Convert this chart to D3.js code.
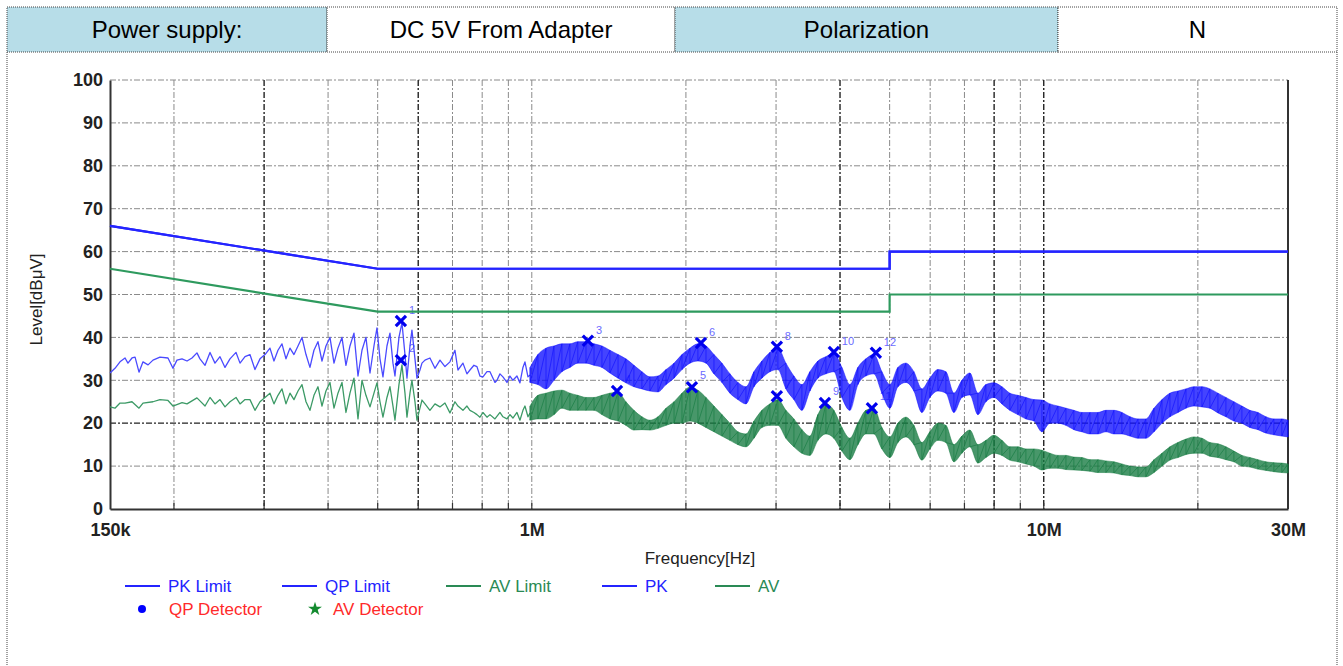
<!DOCTYPE html>
<html><head><meta charset="utf-8">
<script src="https://cdn.jsdelivr.net/npm/d3@7"></script>
<style>
body{margin:0;background:#fff;}
svg{display:block;font-family:Arial,"Liberation Sans",sans-serif;}
</style></head><body>
<svg id="c" width="1343" height="666"></svg>
<script>
// ---------------- DATA ----------------
const headerTexts = ["Power supply:", "DC 5V From Adapter", "Polarization", "N"];
const headerShaded = [true, false, true, false];

const yTickValues = [0,10,20,30,40,50,60,70,80,90,100];
const xLabelFreqs = [0.15, 1, 10, 30];            // MHz
const xLabelTexts = ["150k", "1M", "10M", "30M"];
const gridFreqs = [0.2,0.3,0.4,0.5,0.6,0.7,0.8,0.9,1,2,3,4,5,6,7,8,9,10,20];
const darkGridFreqs = [0.3,0.6,4,8,10];
const darkGridLevels = [20];

// limits (MHz, dBuV)
const limitFreqs = [0.15, 0.5, 5, 5, 30];
const pkLimit = [66, 56, 56, 60, 60];
const qpLimit = [66, 56, 56, 60, 60];
const avLimit = [56, 46, 46, 50, 50];

// low-frequency part of PK trace (MHz, dBuV)
const pkLineF = [0.1500,0.1534,0.1569,0.1605,0.1626,0.1656,0.1679,0.1709,0.1740,0.1780,0.1820,0.1878,0.1947,0.1991,0.2027,0.2074,0.2121,0.2169,0.2218,0.2248,0.2300,0.2352,0.2405,0.2460,0.2516,0.2573,0.2644,0.2692,0.2753,0.2815,0.2879,0.2945,0.3012,0.3080,0.3136,0.3193,0.3251,0.3310,0.3370,0.3431,0.3494,0.3557,0.3622,0.3687,0.3754,0.3822,0.3892,0.3962,0.4034,0.4108,0.4182,0.4258,0.4335,0.4414,0.4494,0.4576,0.4659,0.4743,0.4830,0.4917,0.4984,0.5052,0.5120,0.5213,0.5284,0.5356,0.5404,0.5502,0.5577,0.5653,0.5704,0.5781,0.5833,0.5913,0.5966,0.6047,0.6102,0.6185,0.6325,0.6469,0.6616,0.6767,0.6920,0.7078,0.7174,0.7337,0.7470,0.7572,0.7709,0.7814,0.7920,0.8028,0.8174,0.8285,0.8473,0.8550,0.8666,0.8783,0.8943,0.9064,0.9187,0.9354,0.9481,0.9610,0.9697,0.9829];
const pkLineV = [31.7,32.8,34.3,35.2,34.0,35.2,35.4,31.9,34.3,33.6,34.7,35.4,35.2,32.8,34.7,35.0,34.5,35.2,36.4,35.0,33.5,36.5,34.0,35.5,33.0,35.0,36.5,34.0,35.5,36.0,32.5,35.0,36.0,37.5,34.5,37.0,38.5,35.0,37.5,36.0,38.0,40.0,36.0,33.0,37.0,39.0,34.5,38.0,40.0,34.0,37.5,40.0,33.5,38.0,41.0,31.0,37.0,40.0,31.7,38.0,42.2,35.0,30.8,38.0,41.0,34.0,31.0,40.0,43.4,36.0,30.5,38.0,41.7,35.0,30.5,32.4,34.0,34.7,35.2,32.8,34.7,33.2,34.3,37.0,32.4,34.0,31.5,32.4,33.5,33.2,31.0,30.8,32.0,32.0,29.5,30.0,31.5,30.8,29.5,31.0,30.0,31.0,29.4,33.0,34.3,30.8];

// low-frequency part of AV trace
const avLineF = [0.1500,0.1534,0.1569,0.1605,0.1656,0.1709,0.1740,0.1820,0.1878,0.1947,0.1991,0.2074,0.2121,0.2169,0.2218,0.2248,0.2300,0.2352,0.2405,0.2460,0.2516,0.2573,0.2644,0.2692,0.2753,0.2815,0.2879,0.2945,0.3012,0.3080,0.3136,0.3193,0.3251,0.3310,0.3370,0.3431,0.3494,0.3557,0.3622,0.3687,0.3754,0.3822,0.3892,0.3962,0.4034,0.4108,0.4182,0.4258,0.4335,0.4414,0.4494,0.4576,0.4659,0.4743,0.4830,0.4917,0.4984,0.5052,0.5120,0.5213,0.5284,0.5356,0.5404,0.5502,0.5577,0.5653,0.5704,0.5781,0.5833,0.5913,0.5966,0.6102,0.6185,0.6325,0.6469,0.6616,0.6767,0.6920,0.7078,0.7174,0.7337,0.7470,0.7572,0.7709,0.7814,0.7920,0.8028,0.8174,0.8285,0.8473,0.8666,0.8783,0.8943,0.9064,0.9187,0.9354,0.9481,0.9610,0.9697,0.9829];
const avLineV = [23.8,23.5,24.7,24.7,25.0,23.5,24.7,25.0,25.5,25.3,24.0,24.8,24.5,25.2,25.9,25.2,24.0,26.0,24.5,25.5,23.8,25.0,26.0,24.5,25.5,25.5,23.0,25.0,26.0,27.0,24.5,26.5,28.0,24.5,27.0,25.5,27.5,29.0,25.0,23.0,26.5,28.5,24.0,27.5,29.5,23.5,27.0,29.5,22.5,27.0,30.5,21.0,30.0,26.5,23.8,27.0,29.4,25.0,21.4,26.0,28.5,24.0,20.7,29.0,33.6,27.0,21.4,27.0,30.0,25.0,20.7,25.4,24.5,23.0,24.5,23.8,24.7,22.4,25.0,24.0,23.0,24.0,23.0,22.5,22.0,21.4,22.5,21.4,22.0,21.0,22.5,21.5,21.0,22.0,21.2,22.5,20.7,23.0,24.0,21.5];

// dense part (upper / lower envelope of the noise band)
const bandF = [0.992,1.028,1.066,1.105,1.145,1.187,1.230,1.276,1.323,1.371,1.421,1.474,1.527,1.583,1.641,1.701,1.764,1.829,1.896,1.965,2.037,2.111,2.189,2.269,2.352,2.438,2.527,2.620,2.716,2.815,2.918,3.025,3.136,3.251,3.370,3.493,3.621,3.754,3.891,4.034,4.181,4.335,4.493,4.658,4.829,5.006,5.189,5.379,5.576,5.780,5.992,6.212,6.439,6.675,6.920,7.173,7.436,7.709,7.991,8.284,8.587,8.902,9.228,9.567,9.917,10.28,10.66,11.05,11.45,11.87,12.31,12.76,13.23,13.71,14.21,14.74,15.28,15.83,16.42,17.02,17.64,18.29,18.96,19.65,20.37,21.11,21.89,22.69,23.52,24.38,25.27,26.20,27.16,28.15,29.18,30.0];
const pkHi = [33,36,37.5,38,38.5,38.5,39,39,38.5,38,37,36,35,33.5,32,30.8,31,32.5,34,36,37.5,38.5,38,36,34,31.5,29.5,28.5,32,34.5,36.5,37.5,34,31,29,32,34.5,35.5,36.3,33,29,33,35,36,32,29,33,34,32,28,30.5,32.5,32,27,30,31.7,27,29,29.4,28.5,27,26.5,26,25.5,25.4,24.5,24,23.5,23,22.5,22.5,22.5,23,23,22.5,21.5,21,21,23.5,25.5,27,27.5,28,28.5,28.5,28,27,26,25,24,23,22.5,21.5,21,21,20.7];
const pkLo = [29.5,29,28,30,32,33,34,34,33.5,33,31.7,30.5,29.4,28.5,28,27.5,27.3,29,30.5,32.5,34,34.5,34,31.5,29.5,27,25.5,24.5,28.5,30.5,32,32.5,28,25.5,23,27.5,30.5,31.5,32,26,23,29,31,31.5,27,23.5,28.5,29.5,27.5,22.5,26,27.5,27,22.5,26,26.6,22,25,26,24.5,23,22,21,20.5,18,20,20,19.5,18.5,18,17.5,17.5,18,17.5,17.5,17,16.5,16.5,18,20,21.5,22.5,23.5,24,23.8,23.5,22.4,21.5,20.5,20,19,18.5,17.7,17.3,17,16.8];
const avHi = [24,26.5,27,27.5,27.7,27,26.5,26,26,26.5,27,27.2,25,23,21.5,20.7,21.5,23.5,25,27,28.4,27.7,26,24,22,20,18,17.5,20.5,23,24.5,25.5,23,21,18.5,17,22,24.5,23,19,16.5,20,23,23.5,19,16.8,20,21.4,19.5,15.5,18,20,19.5,15,17,18.4,15,16,17.2,16,14.5,14.5,14,14,13.7,13,12.5,12.5,12.1,12,11.5,11.5,11.2,11,10.5,10,9.8,9.8,11.5,13,14.5,15.5,16.3,16.8,16.5,15.5,15.2,14.5,13.5,12.5,12,11.5,11,10.8,10.7,10.5];
const avLo = [20.7,21,21,22,23.5,23,23,23,23,22,21,20.5,19.5,18.4,18.5,18.4,18.8,19.5,20,20,20.5,20,19,18,17,16,15,14.5,16.5,19,19.5,19.5,16.5,14.5,13,12.5,16,17.5,16.5,13.5,11.5,15,17.5,17.5,14,12,15.5,16.8,15,11.4,14,16,15.5,11,13,14.5,10.7,12,13,12.5,11.4,11,10.5,10,9.1,9.5,9.5,9.2,9.1,9,8.8,8.5,8.5,8.4,8,7.8,7.5,7.5,8.5,10,11.4,12,12.7,13,13,12.3,12,11.5,11,10,9.8,9.3,9,8.7,8.5,8.4];

// detector results
const qpNums = [1,3,6,8,10,12];
const qpFreqs = [0.555,1.287,2.140,3.011,3.891,4.700];
const qpValues = [43.8,39.2,38.7,37.8,36.6,36.4];
const avNums = [2,4,5,7,9,11];
const avFreqs = [0.555,1.467,2.055,3.011,3.737,4.616];
const avValues = [34.7,27.5,28.4,26.3,24.7,23.5];

const legendRow1 = ["PK Limit","QP Limit","AV Limit","PK","AV"];
const legendRow1Colors = ["#2424ff","#2424ff","#2a8a55","#2424ff","#2a8a55"];
const legendRow2 = ["QP Detector","AV Detector"];

// ---------------- DRAW ----------------
const svg = d3.select("#c");
const BLUE = "#1010ff", GREEN = "#147a40";
const plot = {left:110, right:1288, top:80, bottom:509};
const x = d3.scaleLog().domain([0.15,30]).range([plot.left, plot.right]);
const y = d3.scaleLinear().domain([0,100]).range([plot.bottom, plot.top]);

// header table
const cellEdges = [7, 327, 675, 1058, 1337];
const hdr = svg.append("g");
headerTexts.forEach((t,i)=>{
  hdr.append("rect").attr("x",cellEdges[i]).attr("y",7).attr("width",cellEdges[i+1]-cellEdges[i]).attr("height",45)
    .attr("fill", headerShaded[i] ? "#b7dde8" : "#fff")
    .attr("stroke","#444").attr("stroke-width",1).attr("stroke-dasharray","1,1");
  hdr.append("text").attr("x",(cellEdges[i]+cellEdges[i+1])/2).attr("y",30).attr("dy","0.35em")
    .attr("text-anchor","middle").attr("font-size",24).attr("fill","#000").text(t);
});
svg.append("line").attr("x1",7).attr("x2",7).attr("y1",52).attr("y2",666).attr("stroke","#444").attr("stroke-dasharray","1,1");
svg.append("line").attr("x1",1337).attr("x2",1337).attr("y1",52).attr("y2",666).attr("stroke","#444").attr("stroke-dasharray","1,1");

// grid
const grid = svg.append("g");
yTickValues.filter(v=>v>0).forEach(v=>{
  const dark = darkGridLevels.includes(v);
  grid.append("line").attr("x1",plot.left).attr("x2",plot.right).attr("y1",y(v)).attr("y2",y(v))
    .attr("stroke", dark ? "#222" : "#8a8a8a").attr("stroke-width", dark?1.3:1).attr("stroke-dasharray","6,2,2,2");
});
gridFreqs.forEach(f=>{
  const dark = darkGridFreqs.includes(f);
  grid.append("line").attr("x1",x(f)).attr("x2",x(f)).attr("y1",plot.top).attr("y2",plot.bottom)
    .attr("stroke", dark ? "#222" : "#8a8a8a").attr("stroke-width", dark?1.4:1).attr("stroke-dasharray","6,2,2,2");
  grid.append("line").attr("x1",x(f)).attr("x2",x(f)).attr("y1",plot.bottom).attr("y2",plot.bottom-6)
    .attr("stroke","#333").attr("stroke-width",1.2);
});

// axes frame
const yAxis = d3.axisLeft(y).tickValues(yTickValues).tickSize(0).tickPadding(7);
const gy = svg.append("g").attr("transform",`translate(${plot.left},0)`).call(yAxis);
gy.select(".domain").attr("stroke","#333").attr("stroke-width",2);
gy.selectAll("text").attr("font-size",18).attr("font-weight","bold").attr("fill","#222").attr("font-family","Arial, Liberation Sans, sans-serif");
const xAxis = d3.axisBottom(x).tickValues(xLabelFreqs).tickFormat((d,i)=>xLabelTexts[i]).tickSize(0).tickPadding(14);
const gx = svg.append("g").attr("transform",`translate(0,${plot.bottom})`).call(xAxis);
gx.select(".domain").attr("stroke","#333").attr("stroke-width",2);
gx.selectAll("text").attr("font-size",18).attr("font-weight","bold").attr("fill","#222").attr("font-family","Arial, Liberation Sans, sans-serif");
svg.append("line").attr("x1",plot.right).attr("x2",plot.right).attr("y1",plot.top).attr("y2",plot.bottom).attr("stroke","#333").attr("stroke-width",2);

// axis titles
svg.append("text").attr("transform",`translate(42,${(plot.top+plot.bottom)/2+5}) rotate(-90)`)
  .attr("text-anchor","middle").attr("font-size",17).attr("fill","#222").text("Level[dBμV]");
svg.append("text").attr("x",700).attr("y",558).attr("dy","0.35em").attr("text-anchor","middle")
  .attr("font-size",17).attr("fill","#222").text("Frequency[Hz]");

// marker labels (drawn under traces)
const lblG = svg.append("g").attr("font-size",11).attr("fill","#6b6bff");
qpNums.forEach((n,i)=>lblG.append("text").attr("x",x(qpFreqs[i])+8).attr("y",y(qpValues[i])-7).text(n));
avNums.forEach((n,i)=>lblG.append("text").attr("x",x(avFreqs[i])+8).attr("y",y(avValues[i])-8).text(n));

// traces
const line = d3.line().x(d=>x(d[0])).y(d=>y(d[1]));
function drawTrace(lf, lv, hi, lo, color, lineColor){
  svg.append("path").attr("d", line(lf.map((f,i)=>[f,lv[i]]).concat([[bandF[0],(hi[0]+lo[0])/2]])))
    .attr("fill","none").attr("stroke",lineColor).attr("stroke-width",1.3).attr("stroke-linejoin","round");
  const area = d3.area().x((d,i)=>x(bandF[i])).y0((d,i)=>y(lo[i])).y1((d,i)=>y(hi[i])).curve(d3.curveMonotoneX);
  svg.append("path").attr("d", area(bandF)).attr("fill",color).attr("fill-opacity",0.78)
    .attr("stroke",color).attr("stroke-opacity",0.5).attr("stroke-width",1);
  const zig = [];
  bandF.forEach((f,i)=>{ zig.push([f,hi[i]]); zig.push([f,lo[i]]); });
  svg.append("path").attr("d", line(zig)).attr("fill","none").attr("stroke",color).attr("stroke-width",0.8).attr("stroke-opacity",0.8);
}
drawTrace(avLineF, avLineV, avHi, avLo, GREEN, "#3c9a66");
drawTrace(pkLineF, pkLineV, pkHi, pkLo, BLUE, "#4a4aff");

// limit lines
const limLine = d3.line().x((d,i)=>x(limitFreqs[i])).y(d=>y(d));
svg.append("path").attr("d",limLine(avLimit)).attr("fill","none").attr("stroke","#2e9a5e").attr("stroke-width",2.2);
svg.append("path").attr("d",limLine(pkLimit)).attr("fill","none").attr("stroke","#2424ff").attr("stroke-width",2.2);
svg.append("path").attr("d",limLine(qpLimit)).attr("fill","none").attr("stroke","#2424ff").attr("stroke-width",2.2);

// detector markers
const xSym = d3.symbol().type(d3.symbolX).size(70);
const mk = svg.append("g");
qpFreqs.forEach((f,i)=>mk.append("path").attr("d",xSym()).attr("transform",`translate(${x(f)},${y(qpValues[i])})`)
  .attr("fill","none").attr("stroke","#0000ee").attr("stroke-width",3.2));
avFreqs.forEach((f,i)=>mk.append("path").attr("d",xSym()).attr("transform",`translate(${x(f)},${y(avValues[i])})`)
  .attr("fill","none").attr("stroke","#0000ee").attr("stroke-width",3.2));

// legend
const lg = svg.append("g").attr("font-size",17);
const row1X = [125, 282, 446, 602, 715];
legendRow1.forEach((t,i)=>{
  lg.append("line").attr("x1",row1X[i]).attr("x2",row1X[i]+35).attr("y1",586).attr("y2",586)
    .attr("stroke",legendRow1Colors[i]).attr("stroke-width",2);
  lg.append("text").attr("x",row1X[i]+43).attr("y",586).attr("dy","0.35em").attr("fill",legendRow1Colors[i]).text(t);
});
lg.append("circle").attr("cx",142).attr("cy",609).attr("r",4).attr("fill","#0000ff");
lg.append("text").attr("x",169).attr("y",609).attr("dy","0.35em").attr("fill","#ff2a2a").text(legendRow2[0]);
lg.append("path").attr("d",d3.symbol().type(d3.symbolStar).size(60)()).attr("transform","translate(315,609)").attr("fill","#138a2e");
lg.append("text").attr("x",333).attr("y",609).attr("dy","0.35em").attr("fill","#ff2a2a").text(legendRow2[1]);
</script>
</body></html>
